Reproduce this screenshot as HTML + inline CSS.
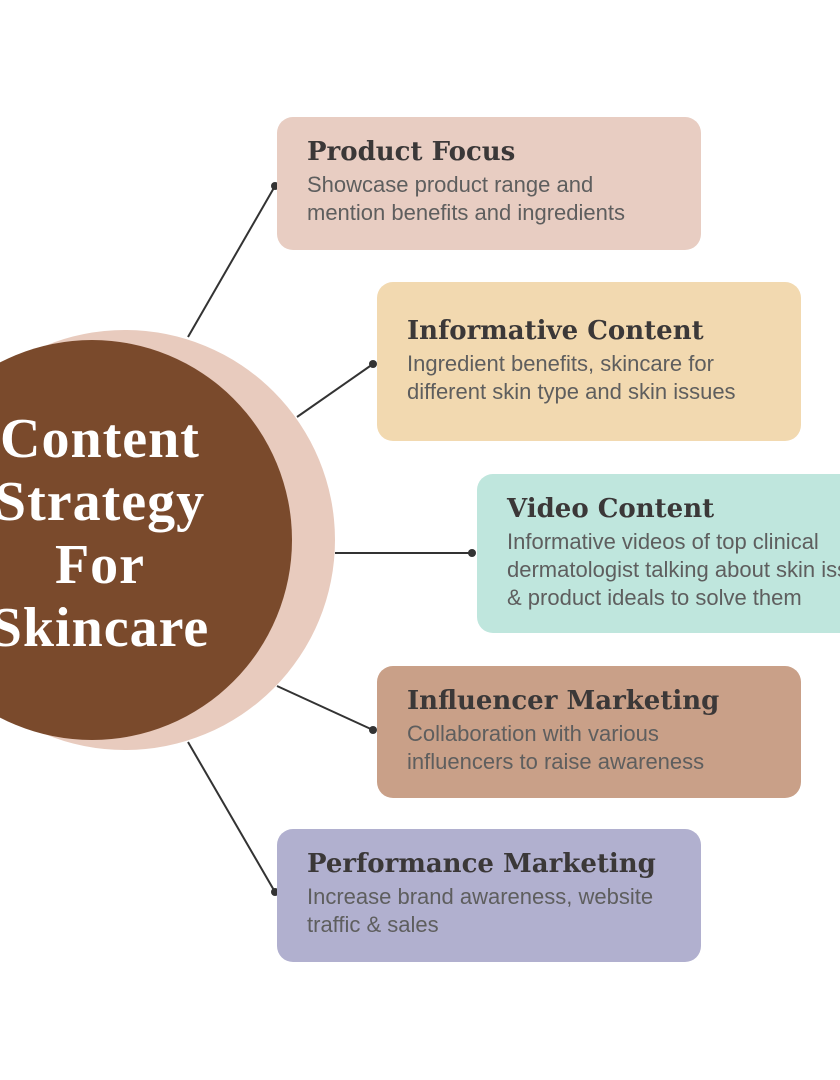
<!DOCTYPE html>
<html><head><meta charset="utf-8"><style>
html,body{margin:0;padding:0;background:#fff;overflow:hidden;}
body{width:840px;height:1080px;position:relative;overflow:hidden;font-family:"Liberation Sans",sans-serif;}
.c{position:absolute;border-radius:50%;}
.box{position:absolute;border-radius:16px;box-sizing:border-box;padding:18px 0 0 30px;overflow:hidden;}
.box h3{margin:0;font-family:"DejaVu Serif",serif;font-weight:bold;font-size:26px;color:#3b3838;line-height:34px;white-space:nowrap;}
.box p{margin:2px 0 0 0;font-size:22px;line-height:28px;color:#5e5e5e;font-weight:300;white-space:nowrap;}
.ct{position:absolute;left:-60px;width:320px;top:408px;text-align:center;font-family:"Liberation Serif",serif;font-weight:bold;color:#fff;font-size:56px;line-height:63px;letter-spacing:1px;}
</style></head><body>
<div class="c" style="left:-85px;top:330px;width:420px;height:420px;background:#e8cbbe;"></div>
<div class="c" style="left:-108px;top:340px;width:400px;height:400px;background:#7a4a2c;"></div>
<div class="ct">Content<br>Strategy<br>For<br>Skincare</div>
<svg width="840" height="1080" style="position:absolute;left:0;top:0">
<g stroke="#333" stroke-width="2">
<line x1="188" y1="337" x2="275" y2="186"/>
<line x1="297" y1="417" x2="373" y2="364"/>
<line x1="335" y1="553" x2="472" y2="553"/>
<line x1="277" y1="686" x2="373" y2="730"/>
<line x1="188" y1="742" x2="275" y2="892"/>
</g>
<g fill="#333">
<circle cx="275" cy="186" r="4"/><circle cx="373" cy="364" r="4"/><circle cx="472" cy="553" r="4"/><circle cx="373" cy="730" r="4"/><circle cx="275" cy="892" r="4"/>
</g></svg>
<div class="box" style="left:277px;top:117px;width:424px;height:133px;background:#e8cdc2;"><h3>Product Focus</h3><p>Showcase product range and<br>mention benefits and ingredients</p></div>
<div class="box" style="left:377px;top:282px;width:424px;height:159px;background:#f2d9b0;padding-top:32px;"><h3>Informative Content</h3><p>Ingredient benefits, skincare for<br>different skin type and skin issues</p></div>
<div class="box" style="left:477px;top:474px;width:363px;height:159px;background:#bfe6dd;padding-top:18px;border-radius:16px 0 0 16px;"><h3>Video Content</h3><p>Informative videos of top clinical<br>dermatologist talking about skin issues<br>&amp; product ideals to solve them</p></div>
<div class="box" style="left:377px;top:666px;width:424px;height:132px;background:#c9a088;"><h3>Influencer Marketing</h3><p>Collaboration with various<br>influencers to raise awareness</p></div>
<div class="box" style="left:277px;top:829px;width:424px;height:133px;background:#b1b0cf;"><h3>Performance Marketing</h3><p>Increase brand awareness, website<br>traffic &amp; sales</p></div>
</body></html>
